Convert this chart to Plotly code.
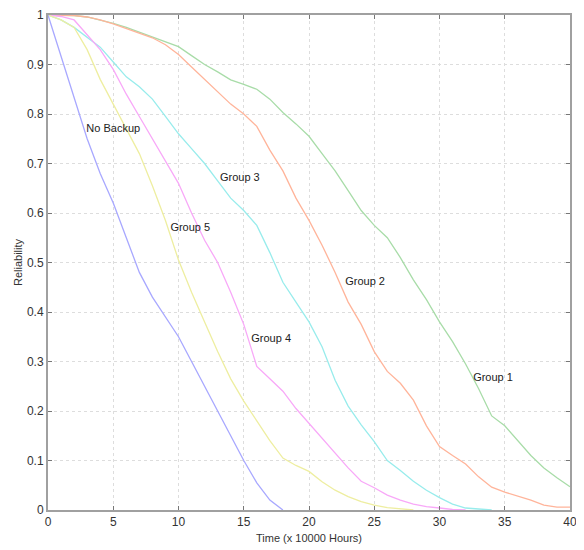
import plotly.graph_objects as go

x_blue = list(range(0, 19))
no_backup = [1, 0.915, 0.83, 0.75, 0.68, 0.62, 0.55, 0.48, 0.43, 0.39, 0.35, 0.3, 0.25, 0.2, 0.15, 0.1, 0.055, 0.02, 0.0]

x_g5 = list(range(0, 29))
group5 = [1, 0.99, 0.975, 0.93, 0.87, 0.82, 0.77, 0.72, 0.655, 0.585, 0.505, 0.44, 0.38, 0.32, 0.265,
          0.22, 0.18, 0.14, 0.105, 0.09, 0.078, 0.057, 0.04, 0.027, 0.017, 0.01, 0.005, 0.002, 0.0]

x_g4 = list(range(0, 33))
group4 = [1, 0.997, 0.99, 0.96, 0.93, 0.89, 0.84, 0.795, 0.75, 0.705, 0.66, 0.6, 0.545, 0.5, 0.44,
          0.375, 0.29, 0.265, 0.24, 0.205, 0.175, 0.145, 0.115, 0.085, 0.058, 0.045, 0.03, 0.02,
          0.012, 0.007, 0.004, 0.001, 0.0]

x_g3 = list(range(0, 35))
group3 = [1, 0.99, 0.975, 0.955, 0.935, 0.905, 0.875, 0.855, 0.83, 0.795, 0.76, 0.73, 0.7, 0.665,
          0.63, 0.605, 0.575, 0.52, 0.46, 0.42, 0.38, 0.33, 0.262, 0.21, 0.172, 0.138, 0.1, 0.08,
          0.058, 0.04, 0.025, 0.012, 0.004, 0.002, 0.0]

x_g2 = list(range(0, 41))
group2 = [1, 1, 0.999, 0.996, 0.99, 0.982, 0.973, 0.963, 0.954, 0.94, 0.92, 0.895, 0.87, 0.845,
          0.82, 0.8, 0.775, 0.727, 0.685, 0.63, 0.585, 0.535, 0.48, 0.42, 0.375, 0.32, 0.28, 0.256,
          0.222, 0.17, 0.128, 0.11, 0.093, 0.067, 0.046, 0.036, 0.028, 0.02, 0.01, 0.006, 0.006]

x_g1 = list(range(0, 41))
group1 = [1, 1, 0.999, 0.996, 0.99, 0.983, 0.975, 0.965, 0.956, 0.946, 0.936, 0.918, 0.9, 0.885,
          0.869, 0.86, 0.85, 0.83, 0.803, 0.78, 0.755, 0.72, 0.685, 0.645, 0.605, 0.575, 0.55,
          0.51, 0.465, 0.425, 0.38, 0.34, 0.295, 0.245, 0.19, 0.17, 0.14, 0.11, 0.085, 0.065, 0.047]

label_text = ["No Backup", "Group 5", "Group 3", "Group 4", "Group 2", "Group 1"]
label_x = [5.0, 10.9, 14.7, 17.1, 24.3, 34.1]
label_y = [0.77, 0.57, 0.67, 0.345, 0.46, 0.267]

x_ticks = [0, 5, 10, 15, 20, 25, 30, 35, 40]
y_ticks = [0, 0.1, 0.2, 0.3, 0.4, 0.5, 0.6, 0.7, 0.8, 0.9, 1]
y_tick_labels = ["0", "0.1", "0.2", "0.3", "0.4", "0.5", "0.6", "0.7", "0.8", "0.9", "1"]

series = [
    (x_g1, group1, "#a8dca8"),
    (x_g2, group2, "#ffb49a"),
    (x_g3, group3, "#98ecec"),
    (x_g4, group4, "#f8a8f8"),
    (x_g5, group5, "#eeeea0"),
    (x_blue, no_backup, "#a8a8ff"),
]

fig = go.Figure()
for xs, ys, c in series:
    fig.add_trace(go.Scatter(x=xs, y=ys, mode="lines", line=dict(color=c, width=1.3),
                             showlegend=False, hoverinfo="skip"))

fig.add_trace(go.Scatter(x=label_x, y=label_y, mode="text", text=label_text,
                         textfont=dict(family="Arial, Liberation Sans", size=11, color="#222222"),
                         showlegend=False, hoverinfo="skip"))

axis_common = dict(
    showline=True, linecolor="#a0a0a0", linewidth=2, mirror="ticks",
    ticks="inside", ticklen=4, tickcolor="#777777",
    showgrid=True, gridcolor="#dddddd", griddash="dot", gridwidth=1,
    zeroline=False, automargin=False,
    tickfont=dict(family="Arial, Liberation Sans", size=12, color="#333333"),
)

fig.update_xaxes(range=[0, 40], tickvals=x_ticks, **axis_common,
                 title=dict(text="Time (x 10000 Hours)", standoff=6,
                            font=dict(family="Arial, Liberation Sans", size=11, color="#333333")))
fig.update_yaxes(range=[0, 1], tickvals=y_ticks, ticktext=y_tick_labels, **axis_common,
                 title=dict(text="Reliability", standoff=2,
                            font=dict(family="Arial, Liberation Sans", size=11, color="#333333")))

fig.update_layout(
    width=576, height=542,
    margin=dict(l=40, r=14, t=7, b=40, autoexpand=False),
    plot_bgcolor="white", paper_bgcolor="white",
)

fig.write_html("out.html")
